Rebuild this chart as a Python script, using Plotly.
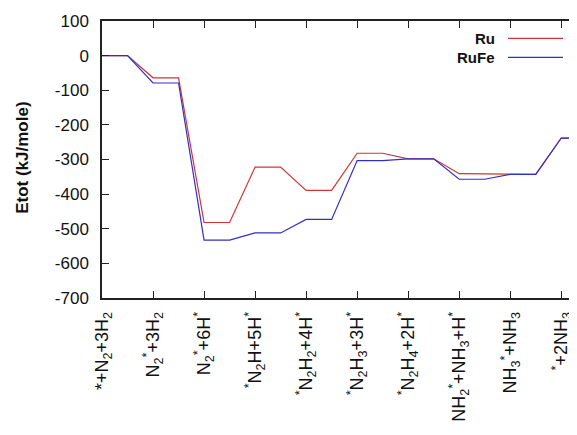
import plotly.graph_objects as go

states = ["*+N<sub>2</sub>+3H<sub>2</sub>",
          "N<sub>2</sub><sup>*</sup>+3H<sub>2</sub>",
          "N<sub>2</sub><sup>*</sup>+6H<sup>*</sup>",
          "<sup>*</sup>N<sub>2</sub>H+5H<sup>*</sup>",
          "<sup>*</sup>N<sub>2</sub>H<sub>2</sub>+4H<sup>*</sup>",
          "<sup>*</sup>N<sub>2</sub>H<sub>3</sub>+3H<sup>*</sup>",
          "<sup>*</sup>N<sub>2</sub>H<sub>4</sub>+2H<sup>*</sup>",
          "NH<sub>2</sub><sup>*</sup>+NH<sub>3</sub>+H<sup>*</sup>",
          "NH<sub>3</sub><sup>*</sup>+NH<sub>3</sub>",
          "<sup>*</sup>+2NH<sub>3</sub>"]
ru = [0, -64, -482, -322, -389, -282, -298, -341, -343, -238]
rufe = [0, -79, -533, -512, -473, -303, -298, -357, -343, -238]
series_names = ["Ru", "RuFe"]
colors = ["#d03434", "#3030c4"]
y_ticks = [100, 0, -100, -200, -300, -400, -500, -600, -700]
y_ticklabels = ["100", "0", "-100", "-200", "-300", "-400", "-500", "-600", "-700"]

# page body has an 8px margin: figure coordinates = window coordinates - 8
OFF = 8
W, H = 577 - OFF, 435 - OFF
L, T = 102 - OFF, 21 - OFF
B = H - (298.3 - OFF)
plot_w = W - L
plot_h = H - T - B

def steps(vals):
    xs, ys = [], []
    for i, v in enumerate(vals):
        xs += [i, i + 0.5]
        ys += [v, v]
    return xs, ys

fig = go.Figure()
for name, vals, c in zip(series_names, [ru, rufe], colors):
    xs, ys = steps(vals)
    fig.add_trace(go.Scatter(x=xs, y=ys, mode="lines", name=name,
                             line=dict(color=c, width=1.2), showlegend=False))

xmax = plot_w / 51.03
font = "Liberation Sans, Arial, sans-serif"
fig.update_layout(
    width=W, height=H,
    margin=dict(l=L, r=0, t=T, b=B, autoexpand=False),
    paper_bgcolor="white", plot_bgcolor="white",
    xaxis=dict(range=[0, xmax], tickmode="array", tickvals=list(range(len(states))),
               ticktext=states, tickangle=-90, ticks="inside", ticklen=7,
               tickcolor="#222", showline=True, linecolor="#222", linewidth=1.5,
               mirror="ticks", showgrid=False, zeroline=False, automargin=False,
               ticklabelstandoff=5,
               tickfont=dict(family=font, size=18, color="#111")),
    yaxis=dict(range=[-700, 100], tickmode="array", tickvals=y_ticks,
               ticktext=y_ticklabels, automargin=False, ticklabelstandoff=8,
               ticks="inside", ticklen=7, tickcolor="#222", showline=True,
               linecolor="#222", linewidth=1.5, mirror=False, showgrid=False,
               zeroline=False, tickfont=dict(family=font, size=17, color="#111")),
)

def px(x):
    return (x - OFF - L) / plot_w

def py(y):
    return 1 - (y - OFF - T) / plot_h

fig.add_annotation(x=px(23), y=py(158), xref="paper", yref="paper",
                   text="<b>Etot (kJ/mole)</b>", textangle=-90, showarrow=False,
                   xanchor="center", yanchor="middle",
                   font=dict(family=font, size=17, color="#111"))

for name, c, yy in zip(series_names, colors, [38.3, 57.5]):
    fig.add_annotation(x=px(497), y=py(yy), xref="paper", yref="paper",
                       text="<b>%s</b>" % name, showarrow=False, xanchor="right",
                       yanchor="middle", font=dict(family=font, size=15, color="#111"))
    fig.add_shape(type="line", xref="paper", yref="paper", x0=px(508), x1=px(563),
                  y0=py(yy), y1=py(yy), line=dict(color=c, width=1.2))

fig.write_html("out.html")
